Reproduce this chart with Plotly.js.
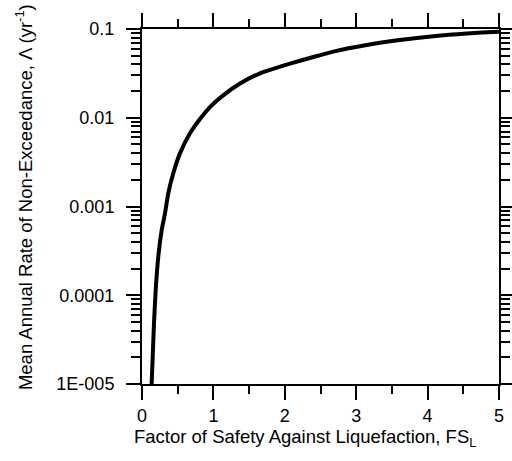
<!DOCTYPE html>
<html>
<head>
<meta charset="utf-8">
<script src="https://cdn.plot.ly/plotly-3.0.1.min.js"></script>
<style>html,body{margin:0;padding:0;background:#fff;}#chart{width:512px;height:461px;}</style>
</head>
<body>
<div id="chart"></div>
<script>
// Factor of safety against liquefaction (x) and mean annual rate of non-exceedance (y)
var fsL = [0.135, 0.150, 0.168, 0.192, 0.228, 0.276, 0.322, 0.368, 0.438, 0.532, 0.672, 0.812, 0.952, 1.106, 1.373, 1.653, 1.933, 2.213, 2.465, 2.68, 3.147, 3.61, 4.08, 4.548, 5.0];
var lambdaRate = [1.0e-5, 2.03e-5, 4.83e-5, 1.15e-4, 2.72e-4, 5.43e-4, 8.38e-4, 1.41e-3, 2.37e-3, 3.97e-3, 6.68e-3, 9.7e-3, 1.32e-2, 1.71e-2, 2.43e-2, 3.17e-2, 3.76e-2, 4.39e-2, 5.0e-2, 5.56e-2, 6.6e-2, 7.5e-2, 8.3e-2, 8.9e-2, 9.3e-2];
// y tick label aliases: default label -> label shown in the reference
var yTickAlias = {'0.00001': '1E-005', '0.0001': '0.0001', '0.001': '0.001', '0.01': '0.01', '0.1': '0.1'};

var fam = 'Liberation Sans, Arial, sans-serif';

var trace = {
  x: fsL, y: lambdaRate, type: 'scatter', mode: 'lines',
  line: {color: '#000', width: 4, shape: 'spline', smoothing: 0.6},
  hoverinfo: 'none'
};

var layout = {
  width: 512, height: 461,
  margin: {l: 142, r: 13, t: 29, b: 77},
  paper_bgcolor: '#fff', plot_bgcolor: '#fff',
  showlegend: false,
  font: {family: fam, size: 18, color: '#000'},
  xaxis: {
    range: [0, 5], tickmode: 'linear', tick0: 0, dtick: 1,
    showgrid: false, zeroline: false,
    showline: true, linecolor: '#000', linewidth: 2, mirror: 'ticks',
    ticks: 'outside', ticklen: 14, tickwidth: 2, tickcolor: '#000',
    minor: {dtick: 0.5, ticks: 'outside', ticklen: 8, tickwidth: 2, tickcolor: '#000', showgrid: false},
    automargin: false
  },
  yaxis: {
    type: 'log', range: [-5, -1], tickmode: 'linear', tick0: 0, dtick: 1,
    tickformat: '~g', labelalias: yTickAlias,
    showgrid: false, zeroline: false,
    showline: true, linecolor: '#000', linewidth: 2, mirror: 'ticks',
    ticks: 'outside', ticklen: 14, tickwidth: 2, tickcolor: '#000',
    minor: {dtick: 'D1', ticks: 'outside', ticklen: 9, tickwidth: 2, tickcolor: '#000', showgrid: false},
    ticklabelstandoff: 8,
    automargin: false
  },
  annotations: [{
    text: 'Factor of Safety Against Liquefaction, FS<sub>L</sub>',
    xref: 'paper', yref: 'paper', x: 0.457, y: -0.152,
    xanchor: 'center', yanchor: 'middle', showarrow: false,
    font: {family: fam, size: 18.5, color: '#000'}
  }, {
    text: 'Mean Annual Rate of Non-Exceedance, \u039B (yr<sup>-1</sup>)',
    xref: 'paper', yref: 'paper', x: -0.33, y: 0.527, textangle: -90,
    xanchor: 'center', yanchor: 'middle', showarrow: false,
    font: {family: fam, size: 18.5, color: '#000'}
  }]
};

Plotly.newPlot('chart', [trace], layout, {staticPlot: true, displayModeBar: false});
</script>
</body>
</html>
